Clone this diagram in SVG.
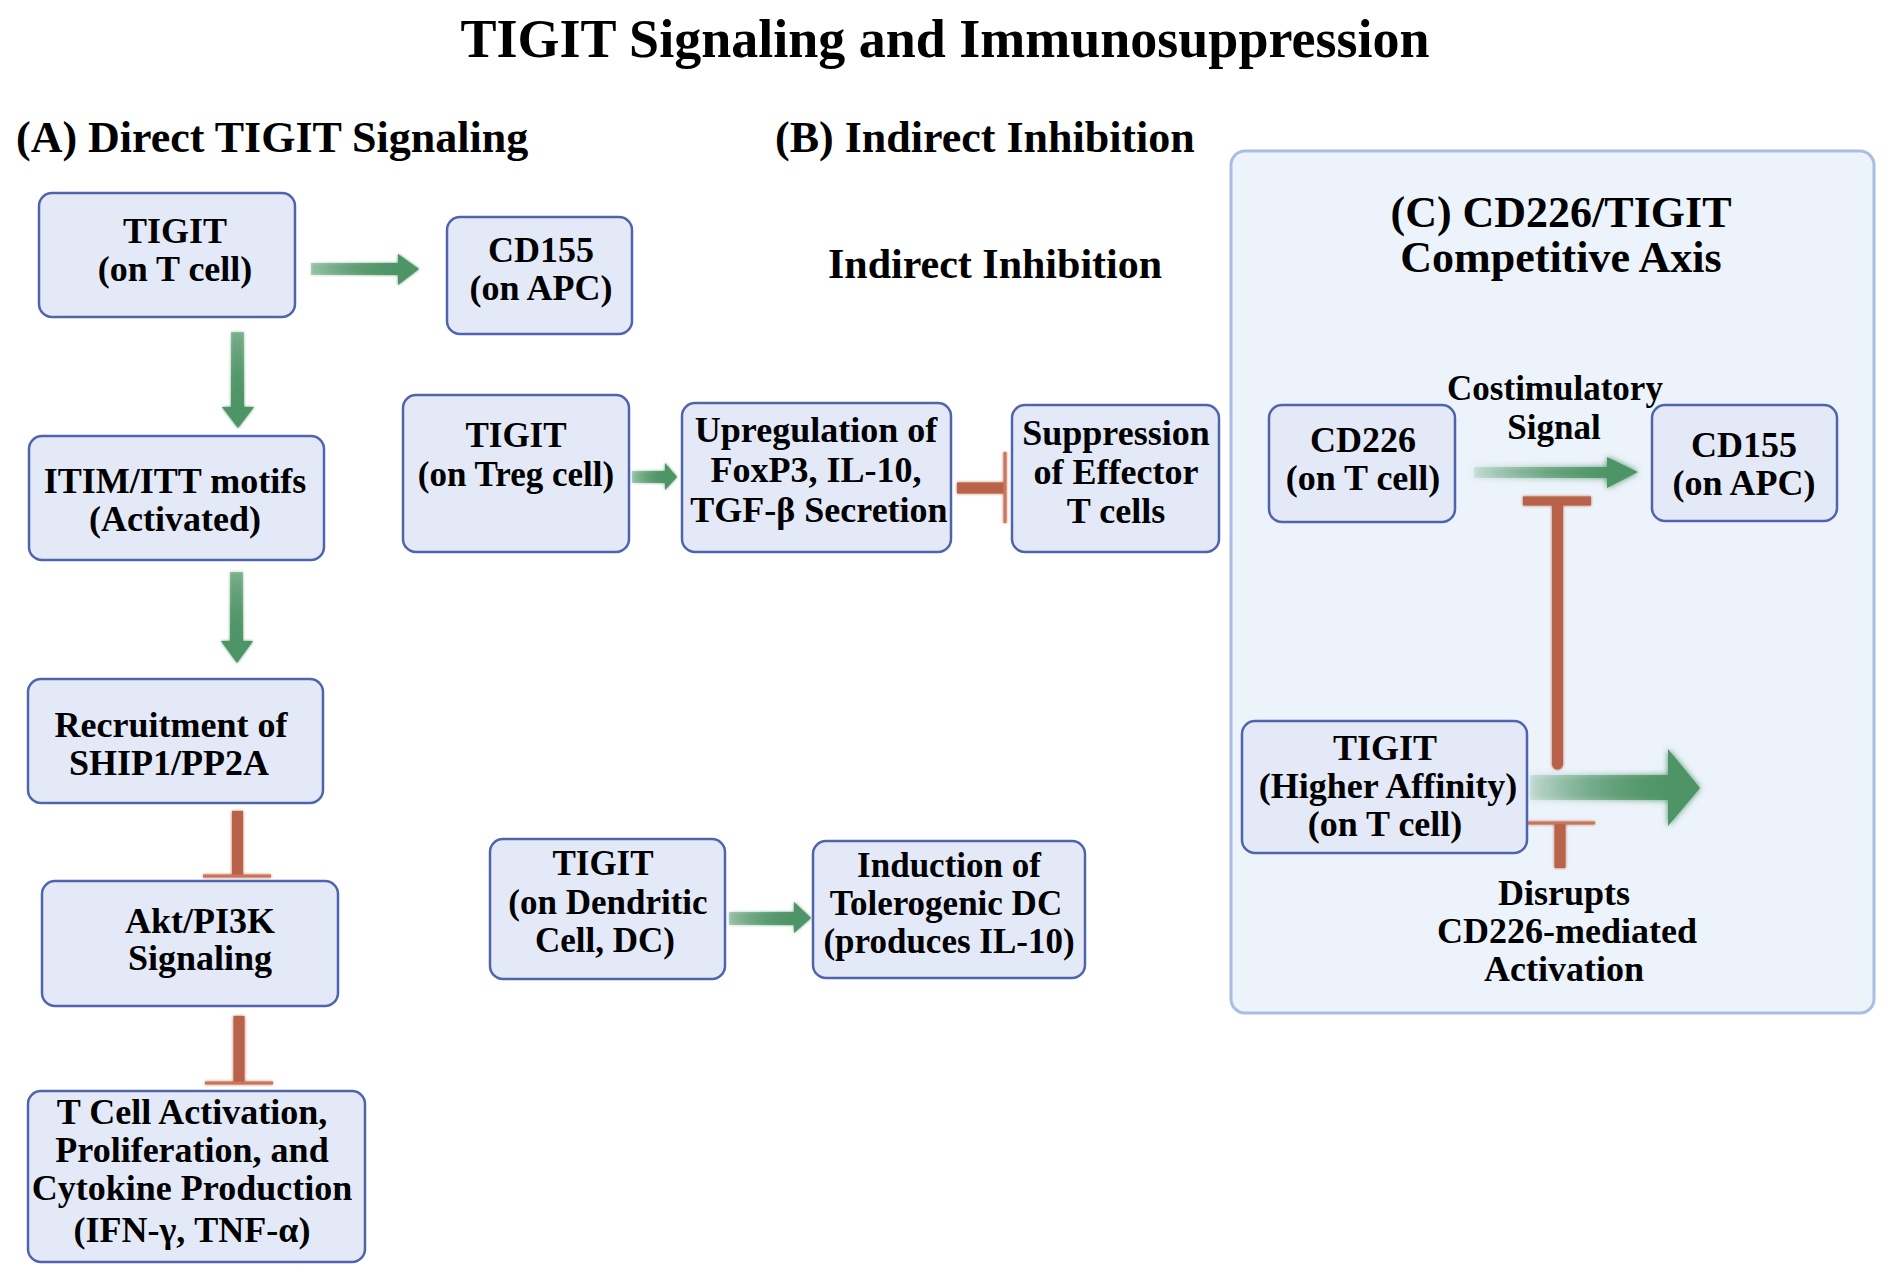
<svg xmlns="http://www.w3.org/2000/svg" width="1890" height="1280" viewBox="0 0 1890 1280">
<defs>
<style>
.t{font-family:"Liberation Serif","Times New Roman",serif;font-weight:bold;fill:#000;text-anchor:middle}
.node{fill:#E4E9F8;stroke:#4F64AC;stroke-width:2.5}
.n36{font-size:36px}
.n35{font-size:35px}
.head{fill:#4E9466}
.inh{fill:none;stroke:#B8644A;stroke-width:11}
.bar{fill:none;stroke:#C8765A;stroke-width:3}
.barT{fill:none;stroke:#B8644A;stroke-width:9}
</style>
<filter id="glow" x="-30%" y="-30%" width="160%" height="160%">
<feGaussianBlur in="SourceGraphic" stdDeviation="3" result="b"/>
<feMerge><feMergeNode in="b"/><feMergeNode in="SourceGraphic"/></feMerge>
</filter>
<filter id="glowS" x="-30%" y="-30%" width="160%" height="160%">
<feGaussianBlur in="SourceGraphic" stdDeviation="1.8" result="b"/>
<feMerge><feMergeNode in="b"/><feMergeNode in="SourceGraphic"/></feMerge>
</filter>
<linearGradient id="gh" x1="0" y1="0" x2="1" y2="0">
<stop offset="0" stop-color="#4E9466" stop-opacity="0.35"/>
<stop offset="1" stop-color="#4E9466" stop-opacity="1"/>
</linearGradient>
<linearGradient id="gv" x1="0" y1="0" x2="0" y2="1">
<stop offset="0" stop-color="#4E9466" stop-opacity="0.5"/>
<stop offset="1" stop-color="#4E9466" stop-opacity="1"/>
</linearGradient>
<linearGradient id="ghBig" x1="0" y1="0" x2="1" y2="0">
<stop offset="0" stop-color="#4E9466" stop-opacity="0.15"/>
<stop offset="1" stop-color="#4E9466" stop-opacity="0.95"/>
</linearGradient>
</defs>

<rect width="1890" height="1280" fill="#FFFFFF"/>

<text class="t" x="945" y="57" font-size="54">TIGIT Signaling and Immunosuppression</text>
<text class="t" x="16" y="152" font-size="44" style="text-anchor:start">(A) Direct TIGIT Signaling</text>
<text class="t" x="775" y="152" font-size="44" style="text-anchor:start">(B) Indirect Inhibition</text>
<text class="t" x="995" y="278" font-size="42">Indirect Inhibition</text>

<g id="panelC">
<rect x="1231" y="151" width="643" height="862" rx="14" fill="#EDF3FB" stroke="#A9BEE2" stroke-width="3"/>
<text class="t" x="1561" y="227" font-size="44">(C) CD226/TIGIT</text>
<text class="t" x="1561" y="272" font-size="44">Competitive Axis</text>
</g>

<g id="connectors">
<g filter="url(#glowS)">
<rect x="311" y="263" width="88" height="12" fill="url(#gh)"/>
<polygon class="head" points="398,254 419,269 398,285"/>
</g>
<g filter="url(#glowS)">
<rect x="231" y="332" width="13" height="76" fill="url(#gv)"/>
<polygon class="head" points="222,407 254,407 238,428"/>
</g>
<g filter="url(#glowS)">
<rect x="230" y="572" width="13" height="70" fill="url(#gv)"/>
<polygon class="head" points="221,641 253,641 237,663"/>
</g>
<g filter="url(#glowS)">
<line class="inh" x1="237.5" y1="811" x2="237.5" y2="875"/>
<line class="bar" x1="203" y1="876" x2="271" y2="876"/>
</g>
<g filter="url(#glowS)">
<line class="inh" x1="239" y1="1016" x2="239" y2="1082"/>
<line class="bar" x1="205" y1="1083" x2="273" y2="1083"/>
</g>
<g filter="url(#glowS)">
<rect x="632" y="471" width="34" height="12" fill="url(#gh)"/>
<polygon class="head" points="665,463 677,477 665,490"/>
</g>
<g filter="url(#glowS)">
<line class="inh" x1="957" y1="488" x2="1004" y2="488"/>
<line class="bar" x1="1005" y1="452" x2="1005" y2="523"/>
</g>
<g filter="url(#glowS)">
<rect x="729" y="912" width="66" height="13" fill="url(#gh)"/>
<polygon class="head" points="794,902 811,918 794,933"/>
</g>
<g filter="url(#glow)">
<rect x="1474" y="467" width="134" height="11" fill="url(#ghBig)"/>
<polygon class="head" points="1607,457 1638,472 1607,488"/>
</g>
<g filter="url(#glowS)">
<line class="inh" x1="1557.5" y1="505" x2="1557.5" y2="764" stroke-linecap="round"/>
<line class="barT" x1="1523" y1="501" x2="1591" y2="501"/>
</g>
<g filter="url(#glow)">
<rect x="1530" y="775" width="139" height="25" fill="url(#ghBig)"/>
<polygon class="head" points="1668,749 1700,788 1668,826"/>
</g>
<g filter="url(#glowS)">
<line class="bar" x1="1527" y1="823" x2="1595" y2="823" stroke-width="2"/>
<line class="inh" x1="1560" y1="824" x2="1560" y2="868"/>
</g>
</g>

<text class="t n35" x="1555" y="400">Costimulatory</text>
<text class="t n35" x="1554" y="439">Signal</text>
<text class="t n36" x="1564" y="905">Disrupts</text>
<text class="t n36" x="1567" y="943">CD226-mediated</text>
<text class="t n36" x="1564" y="981">Activation</text>

<g id="tigitT">
<rect class="node" x="39" y="193" width="256" height="124" rx="13"/>
<text class="t n36" x="175" y="243">TIGIT</text>
<text class="t n36" x="175" y="281">(on T cell)</text>
</g>
<g id="cd155A">
<rect class="node" x="447" y="217" width="185" height="117" rx="13"/>
<text class="t n36" x="541" y="262">CD155</text>
<text class="t n36" x="541" y="300">(on APC)</text>
</g>
<g id="itim">
<rect class="node" x="29" y="436" width="295" height="124" rx="13"/>
<text class="t n36" x="175" y="493">ITIM/ITT motifs</text>
<text class="t n36" x="175" y="531">(Activated)</text>
</g>
<g id="recruit">
<rect class="node" x="28" y="679" width="295" height="124" rx="13"/>
<text class="t n36" x="171" y="737">Recruitment of</text>
<text class="t n36" x="169" y="775">SHIP1/PP2A</text>
</g>
<g id="akt">
<rect class="node" x="42" y="881" width="296" height="125" rx="13"/>
<text class="t n36" x="200" y="933">Akt/PI3K</text>
<text class="t n36" x="200" y="970">Signaling</text>
</g>
<g id="tcell">
<rect class="node" x="28" y="1091" width="337" height="171" rx="13"/>
<text class="t n36" x="192" y="1124">T Cell Activation,</text>
<text class="t n36" x="192" y="1162">Proliferation, and</text>
<text class="t n36" x="192" y="1200">Cytokine Production</text>
<text class="t n36" x="192" y="1242">(IFN-γ, TNF-α)</text>
</g>
<g id="treg">
<rect class="node" x="403" y="395" width="226" height="157" rx="13"/>
<text class="t n35" x="516" y="447">TIGIT</text>
<text class="t n35" x="516" y="486">(on Treg cell)</text>
</g>
<g id="upreg">
<rect class="node" x="682" y="403" width="269" height="149" rx="13"/>
<text class="t n36" x="816" y="442">Upregulation of</text>
<text class="t n36" x="816" y="482">FoxP3, IL-10,</text>
<text class="t n36" x="819" y="522">TGF-β Secretion</text>
</g>
<g id="suppress">
<rect class="node" x="1012" y="405" width="207" height="147" rx="13"/>
<text class="t n36" x="1116" y="445">Suppression</text>
<text class="t n36" x="1116" y="484">of Effector</text>
<text class="t n36" x="1116" y="523">T cells</text>
</g>
<g id="dc">
<rect class="node" x="490" y="839" width="235" height="140" rx="13"/>
<text class="t n35" x="603" y="875">TIGIT</text>
<text class="t n35" x="608" y="914">(on Dendritic</text>
<text class="t n35" x="605" y="952">Cell, DC)</text>
</g>
<g id="induction">
<rect class="node" x="813" y="841" width="272" height="137" rx="13"/>
<text class="t n35" x="949" y="877">Induction of</text>
<text class="t n35" x="946" y="915">Tolerogenic DC</text>
<text class="t n35" x="949" y="953">(produces IL-10)</text>
</g>
<g id="cd226">
<rect class="node" x="1269" y="405" width="186" height="117" rx="13"/>
<text class="t n36" x="1363" y="452">CD226</text>
<text class="t n36" x="1363" y="490">(on T cell)</text>
</g>
<g id="cd155C">
<rect class="node" x="1652" y="405" width="185" height="116" rx="13"/>
<text class="t n36" x="1744" y="457">CD155</text>
<text class="t n36" x="1744" y="495">(on APC)</text>
</g>
<g id="tigitHA">
<rect class="node" x="1242" y="721" width="285" height="132" rx="13"/>
<text class="t n36" x="1385" y="760">TIGIT</text>
<text class="t n36" x="1388" y="798">(Higher Affinity)</text>
<text class="t n36" x="1385" y="836">(on T cell)</text>
</g>
</svg>
